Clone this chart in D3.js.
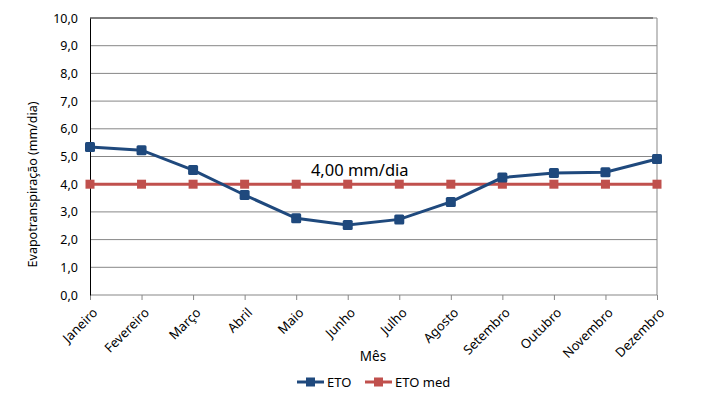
<!DOCTYPE html>
<html>
<head>
<meta charset="utf-8">
<script src="https://cdn.jsdelivr.net/npm/d3@7"></script>
<style>
  body { margin: 0; background: #fff; }
  text { font-family: "Noto Sans", "Open Sans", sans-serif; fill: #000; }
</style>
</head>
<body>
<div id="chart"></div>
<script>
var meses = ["Janeiro", "Fevereiro", "Março", "Abril", "Maio", "Junho",
    "Julho", "Agosto", "Setembro", "Outubro", "Novembro", "Dezembro"];
var eto = [5.34, 5.23, 4.51, 3.61, 2.77, 2.53, 2.73, 3.36, 4.24, 4.40, 4.43, 4.91];
var etoMed = [4.00, 4.00, 4.00, 4.00, 4.00, 4.00, 4.00, 4.00, 4.00, 4.00, 4.00, 4.00];
var yTicks = [0, 1, 2, 3, 4, 5, 6, 7, 8, 9, 10];
var mediaLabel = "4,00 mm/dia";

var margin = { top: 18, right: 51, bottom: 106, left: 90 },
    width = 708 - margin.left - margin.right,
    height = 401 - margin.top - margin.bottom;

var svg = d3.select("#chart")
    .append("svg")
    .attr("width", 708)
    .attr("height", 401)
    .append("g")
    .attr("transform", "translate(" + margin.left + "," + margin.top + ")");

var x = d3.scalePoint()
    .domain(meses)
    .range([0, width]);

var y = d3.scaleLinear()
    .domain([0, 10])
    .range([height, 0]);

var fmt = function (d) { return d3.format(".1f")(d).replace(".", ","); };

// gridlines
svg.append("g")
    .selectAll("line")
    .data(yTicks.slice(1, -1))
    .enter().append("line")
    .attr("x1", 0)
    .attr("x2", width)
    .attr("y1", function (d) { return y(d); })
    .attr("y2", function (d) { return y(d); })
    .attr("stroke", "#878787")
    .attr("stroke-width", 1);

// top border (black) and right border (gray)
svg.append("line")
    .attr("x1", 0).attr("x2", width - 4)
    .attr("y1", y(10)).attr("y2", y(10))
    .attr("stroke", "#000").attr("stroke-width", 1);
svg.append("line")
    .attr("x1", width - 4).attr("x2", width)
    .attr("y1", y(10)).attr("y2", y(10))
    .attr("stroke", "#878787").attr("stroke-width", 1);
svg.append("line")
    .attr("x1", width).attr("x2", width)
    .attr("y1", y(10)).attr("y2", height)
    .attr("stroke", "#878787").attr("stroke-width", 1);

// x axis
var xAxis = svg.append("g")
    .attr("transform", "translate(0," + height + ")")
    .call(d3.axisBottom(x).tickSize(5).tickFormat(""));
xAxis.select(".domain").attr("stroke", "#878787").attr("d", "M0,0H" + width);
xAxis.selectAll(".tick line").attr("stroke", "#878787");

svg.append("g")
    .selectAll("text")
    .data(meses)
    .enter().append("text")
    .attr("transform", function (d) {
        return "translate(" + (x(d) + 2) + "," + (height + 12) + ") rotate(-45)";
    })
    .attr("text-anchor", "end")
    .attr("dy", "0.7em")
    .style("font-size", "13px")
    .text(function (d) { return d; });

// y axis
var yAxis = svg.append("g")
    .call(d3.axisLeft(y).tickValues(yTicks).tickSize(0).tickPadding(12).tickFormat(fmt));
yAxis.select(".domain").attr("stroke", "#000");
yAxis.selectAll("text")
    .style("font-family", "'Noto Sans', sans-serif")
    .style("font-size", "12.5px")
    .style("fill", "#000");

// axis titles
svg.append("text")
    .attr("transform", "translate(" + (-57) + "," + (height / 2 + 28) + ") rotate(-90)")
    .attr("text-anchor", "middle")
    .attr("dy", "0.35em")
    .style("font-size", "12.5px")
    .text("Evapotranspiração (mm/dia)");

svg.append("text")
    .attr("x", 283)
    .attr("y", height + 66)
    .attr("text-anchor", "middle")
    .style("font-size", "13.5px")
    .text("Mês");

// series
var line = d3.line()
    .x(function (d, i) { return x(meses[i]); })
    .y(function (d) { return y(d); });

svg.append("path")
    .datum(etoMed)
    .attr("fill", "none")
    .attr("stroke", "#C0504D")
    .attr("stroke-width", 3)
    .attr("d", line);

svg.append("g")
    .selectAll("rect")
    .data(etoMed)
    .enter().append("rect")
    .attr("x", function (d, i) { return x(meses[i]) - 4.5; })
    .attr("y", function (d) { return y(d) - 4.5; })
    .attr("width", 9)
    .attr("height", 9)
    .attr("fill", "#C0504D");

svg.append("path")
    .datum(eto)
    .attr("fill", "none")
    .attr("stroke", "#1F497D")
    .attr("stroke-width", 3)
    .attr("d", line);

svg.append("g")
    .selectAll("rect")
    .data(eto)
    .enter().append("rect")
    .attr("x", function (d, i) { return x(meses[i]) - 5; })
    .attr("y", function (d) { return y(d) - 5; })
    .attr("width", 10)
    .attr("height", 10)
    .attr("rx", 1.5)
    .attr("fill", "#1F497D");

// label
svg.append("text")
    .attr("x", x("Junho") + 12)
    .attr("y", y(4) - 8)
    .attr("text-anchor", "middle")
    .style("font-size", "16.5px")
    .text(mediaLabel);

// legend
var legend = svg.append("g")
    .attr("transform", "translate(0," + (height + 87) + ")");
var items = [
    { name: "ETO", color: "#1F497D", x: 207 },
    { name: "ETO med", color: "#C0504D", x: 275 }
];
items.forEach(function (it) {
    legend.append("line")
        .attr("x1", it.x).attr("x2", it.x + 27)
        .attr("y1", 0).attr("y2", 0)
        .attr("stroke", it.color).attr("stroke-width", 3);
    legend.append("rect")
        .attr("x", it.x + 9).attr("y", -4.5)
        .attr("width", 9).attr("height", 9)
        .attr("fill", it.color);
    legend.append("text")
        .attr("x", it.x + 30)
        .attr("y", 0)
        .attr("dy", "0.35em")
        .style("font-size", "13px")
        .text(it.name);
});
</script>
</body>
</html>
